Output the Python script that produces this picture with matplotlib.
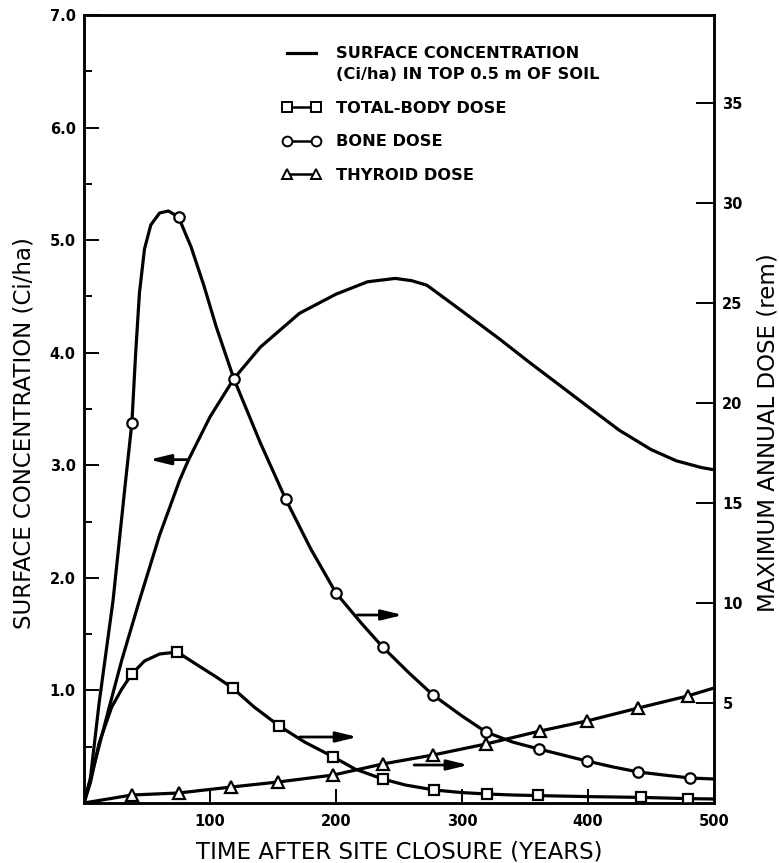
import matplotlib
matplotlib.use("Agg")
import matplotlib.pyplot as plt
from matplotlib.lines import Line2D
from matplotlib.legend_handler import HandlerLine2D

# ---------------- data ----------------
# Surface concentration (Ci/ha), left axis
conc_t = [0, 10, 20, 30, 44, 60, 76, 83, 100, 119, 140, 171, 200, 225, 247, 260, 272,
          277, 300, 330, 354, 380, 400, 425, 450, 470, 490, 500]
conc_v = [0, 0.42, 0.85, 1.27, 1.80, 2.38, 2.87, 3.05, 3.43, 3.77, 4.05, 4.35, 4.52, 4.63,
          4.66, 4.64, 4.60, 4.56, 4.37, 4.12, 3.91, 3.69, 3.52, 3.31, 3.14, 3.04, 2.98, 2.96]

# Bone dose (rem), right axis
bone_t = [0, 5, 12, 23, 33, 38, 41, 44, 48, 53, 60, 67, 75, 85, 95, 105, 119, 140, 160,
          180, 200, 220, 237, 258, 277, 300, 319, 340, 361, 380, 399, 420, 440, 460, 481, 500]
bone_v = [0, 1.2, 5.0, 10.1, 16.1, 19.0, 22.5, 25.5, 27.7, 28.9, 29.5, 29.6, 29.3, 27.8,
          25.9, 23.8, 21.2, 18.0, 15.2, 12.7, 10.5, 9.0, 7.8, 6.5, 5.4, 4.35, 3.55, 3.05,
          2.7, 2.4, 2.1, 1.8, 1.55, 1.4, 1.25, 1.2]
bone_mt = [38, 75, 119, 160, 200, 237, 277, 319, 361, 399, 440, 481]
bone_mv = [19.0, 29.3, 21.2, 15.2, 10.5, 7.8, 5.4, 3.55, 2.7, 2.1, 1.55, 1.25]

# Total-body dose (rem), right axis
body_t = [0, 5, 12, 22, 30, 38, 48, 60, 74, 90, 105, 118, 135, 155, 175, 198, 215, 237,
          255, 278, 300, 320, 340, 360, 400, 442, 479, 500]
body_v = [0, 1.0, 3.0, 4.8, 5.7, 6.45, 7.1, 7.45, 7.55, 6.9, 6.3, 5.75, 4.8, 3.85, 3.05,
          2.3, 1.7, 1.2, 0.9, 0.65, 0.52, 0.45, 0.4, 0.37, 0.32, 0.28, 0.22, 0.2]
body_mt = [38, 74, 118, 155, 198, 237, 278, 320, 360, 442, 479]
body_mv = [6.45, 7.55, 5.75, 3.85, 2.3, 1.2, 0.65, 0.45, 0.4, 0.28, 0.22]

# Thyroid dose (rem), right axis
thy_t = [0, 38, 75, 117, 154, 198, 237, 277, 319, 362, 399, 440, 479, 500]
thy_v = [0, 0.4, 0.5, 0.8, 1.05, 1.4, 1.95, 2.4, 2.95, 3.6, 4.1, 4.75, 5.35, 5.75]
thy_mt = [38, 75, 117, 154, 198, 237, 277, 319, 362, 399, 440, 479]
thy_mv = [0.4, 0.5, 0.8, 1.05, 1.4, 1.95, 2.4, 2.95, 3.6, 4.1, 4.75, 5.35]

# arrows: (tail_t, tip_t, level)
conc_arrow = (83, 52, 3.05)
bone_arrow = (217, 253, 9.4)
body_arrow = (171, 217, 3.3)
thy_arrow = (262, 305, 1.9)

x_ticks = [100, 200, 300, 400, 500]
x_ticklabels = ["100", "200", "300", "400", "500"]
left_ticks = [1, 2, 3, 4, 5, 6, 7]
left_ticklabels = ["1.0", "2.0", "3.0", "4.0", "5.0", "6.0", "7.0"]
left_minor = [0.5, 1.5, 2.5, 3.5, 4.5, 5.5, 6.5]
right_ticks = [5, 10, 15, 20, 25, 30, 35]
right_ticklabels = ["5", "10", "15", "20", "25", "30", "35"]

# ---------------- figure ----------------
W, H = 779, 863
fig = plt.figure(figsize=(W / 100, H / 100), dpi=100)
ax = fig.add_axes([84 / W, 1 - 803 / H, (714 - 84) / W, (803 - 15) / H])
ax2 = ax.twinx()

LW = 2.3
ax.plot(conc_t, conc_v, color="black", lw=LW, solid_joinstyle="round")
ax.set_xlim(0, 500)
ax.set_ylim(0, 7.0)
ax2.set_ylim(0, 39.4)

ax2.plot(bone_t, bone_v, color="black", lw=LW, solid_joinstyle="round")
ax2.plot(bone_mt, bone_mv, ls="none", marker="o", ms=7.5, mfc="white", mec="black", mew=1.6)
ax2.plot(body_t, body_v, color="black", lw=LW, solid_joinstyle="round")
ax2.plot(body_mt, body_mv, ls="none", marker="s", ms=7.5, mfc="white", mec="black", mew=1.6)
ax2.plot(thy_t, thy_v, color="black", lw=LW, solid_joinstyle="round")
ax2.plot(thy_mt, thy_mv, ls="none", marker="^", ms=8, mfc="white", mec="black", mew=1.6)

arrow_props = dict(arrowstyle="-|>,head_length=0.9,head_width=0.22", lw=2.0,
                   color="black", shrinkA=0, shrinkB=0, mutation_scale=14)
ax.annotate("", xy=(conc_arrow[1], conc_arrow[2]), xytext=(conc_arrow[0], conc_arrow[2]),
            arrowprops=arrow_props)
for a in (bone_arrow, body_arrow, thy_arrow):
    ax2.annotate("", xy=(a[1], a[2]), xytext=(a[0], a[2]), arrowprops=arrow_props)

# spines and ticks
for a in (ax, ax2):
    for s in a.spines.values():
        s.set_linewidth(1.8)

tick_font = dict(family="DejaVu Sans", weight="bold", size=10.5)
ax.set_xticks(x_ticks)
ax.set_xticklabels(x_ticklabels, fontdict=tick_font)
ax.set_yticks(left_ticks)
ax.set_yticklabels(left_ticklabels, fontdict=tick_font)
ax.set_yticks(left_minor, minor=True)
ax.tick_params(axis="x", direction="in", length=10, width=1.4, pad=8)
ax.tick_params(axis="y", which="major", direction="in", length=11, width=1.4, pad=6)
ax.tick_params(axis="y", which="minor", direction="in", length=6, width=1.4)
ax2.set_yticks(right_ticks)
ax2.set_yticklabels(right_ticklabels, fontdict=tick_font)
ax2.tick_params(axis="y", direction="in", length=13, width=1.4, pad=6)

label_font = dict(family="DejaVu Sans", size=16.5)
ax.set_xlabel("TIME AFTER SITE CLOSURE (YEARS)", fontdict=label_font, labelpad=8)
ax.set_ylabel("SURFACE CONCENTRATION (Ci/ha)", fontdict=label_font)
ax2.set_ylabel("MAXIMUM ANNUAL DOSE (rem)", fontdict=label_font)
ax.yaxis.set_label_coords(-0.077, 0.47)
ax2.yaxis.set_label_coords(1.068, 0.47)


# legend: handle of the two-line first entry aligned with its first line
class TopLine(HandlerLine2D):
    def __init__(self, shift, **kw):
        super().__init__(**kw)
        self.shift = shift

    def create_artists(self, legend, orig_handle, xdescent, ydescent, width, height,
                       fontsize, trans):
        return super().create_artists(legend, orig_handle, xdescent, ydescent - self.shift,
                                      width, height, fontsize, trans)


h_conc = Line2D([], [], color="black", lw=LW)
h_body = Line2D([], [], color="black", lw=1.8, marker="s", ms=7, mfc="white", mec="black", mew=1.4)
h_bone = Line2D([], [], color="black", lw=1.8, marker="o", ms=7, mfc="white", mec="black", mew=1.4)
h_thy = Line2D([], [], color="black", lw=1.8, marker="^", ms=7.5, mfc="white", mec="black", mew=1.4)
labels = ["SURFACE CONCENTRATION\n(Ci/ha) IN TOP 0.5 m OF SOIL", "TOTAL-BODY DOSE",
          "BONE DOSE", "THYROID DOSE"]
leg = ax.legend([h_conc, h_body, h_bone, h_thy], labels, loc="upper left",
                bbox_to_anchor=(282 / W, 1 - 46 / H), bbox_transform=fig.transFigure,
                frameon=False, numpoints=2, handlelength=2.4, handletextpad=0.95,
                labelspacing=1.15, borderpad=0, borderaxespad=0,
                prop=dict(family="DejaVu Sans", weight="bold", size=11.7),
                handler_map={h_conc: TopLine(16)})
for t in leg.get_texts():
    t.set_linespacing(1.5)

fig.savefig("out.png", dpi=100)
